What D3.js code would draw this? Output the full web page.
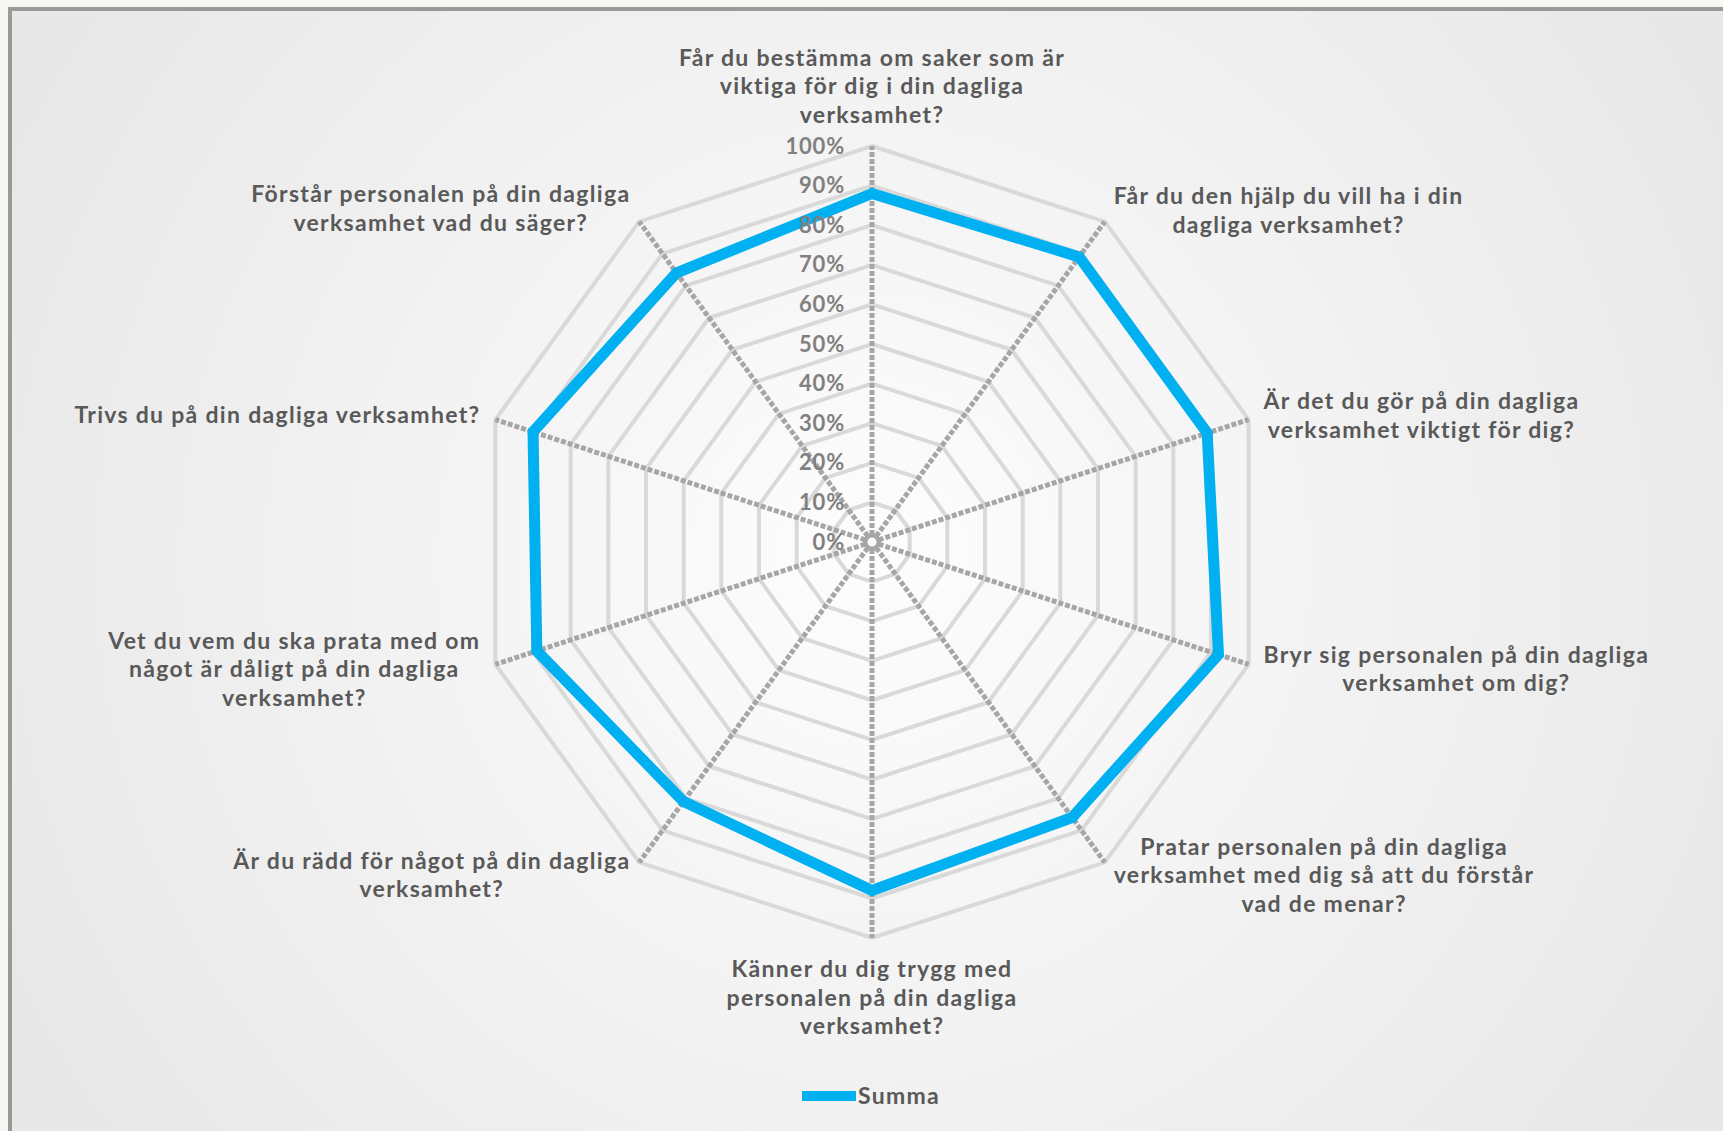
<!DOCTYPE html>
<html>
<head>
<meta charset="utf-8">
<script src="https://cdn.jsdelivr.net/npm/d3@7"></script>
<style>
  html, body { margin: 0; padding: 0; background: #f6f6f2; overflow: hidden; }
  svg { display: block; }
</style>
</head>
<body>
<div id="chart"></div>
<script>
// categories, clockwise from the top
var categories = [
  ["Får du bestämma om saker som är", "viktiga för dig i din dagliga", "verksamhet?"],
  ["Får du den hjälp du vill ha i din", "dagliga verksamhet?"],
  ["Är det du gör på din dagliga", "verksamhet viktigt för dig?"],
  ["Bryr sig personalen på din dagliga", "verksamhet om dig?"],
  ["Pratar personalen på din dagliga", "verksamhet med dig så att du förstår", "vad de menar?"],
  ["Känner du dig trygg med", "personalen på din dagliga", "verksamhet?"],
  ["Är du rädd för något på din dagliga", "verksamhet?"],
  ["Vet du vem du ska prata med om", "något är dåligt på din dagliga", "verksamhet?"],
  ["Trivs du på din dagliga verksamhet?"],
  ["Förstår personalen på din dagliga", "verksamhet vad du säger?"]
];
var summa = [0.88, 0.89, 0.89, 0.92, 0.86, 0.88, 0.81, 0.89, 0.90, 0.84];
var ticks = [0, 0.1, 0.2, 0.3, 0.4, 0.5, 0.6, 0.7, 0.8, 0.9, 1.0];
var seriesName = "Summa";

var width = 1723,
  height = 1131,
  cx = 872,
  cy = 542,
  R = 396;

var font = "'Century Gothic', Lato, sans-serif";

var svg = d3
  .select("#chart")
  .append("svg")
  .attr("width", width)
  .attr("height", height);

// background panel
var grad = svg.append("defs").append("radialGradient")
  .attr("id", "bg")
  .attr("gradientUnits", "userSpaceOnUse")
  .attr("cx", cx).attr("cy", cy + 20).attr("r", 950);
grad.append("stop").attr("offset", "0%").attr("stop-color", "#fdfdfd");
grad.append("stop").attr("offset", "100%").attr("stop-color", "#e8e8e8");

svg.append("rect")
  .attr("x", 10).attr("y", 9)
  .attr("width", width + 20).attr("height", height + 20)
  .attr("fill", "url(#bg)")
  .attr("stroke", "#999999")
  .attr("stroke-width", 4);

var g = svg.append("g").attr("transform", "translate(" + cx + "," + cy + ")");

var r = d3.scaleLinear().domain([0, 1]).range([0, R]);
var angle = d3.scaleLinear().domain([0, categories.length]).range([0, 2 * Math.PI]);

// rings
var ring = function (t) {
  return d3.lineRadial()
    .angle(function (d, i) { return angle(i); })
    .radius(r(t))
    .curve(d3.curveLinearClosed)(categories);
};
g.selectAll(".ring")
  .data(ticks.slice(1))
  .enter()
  .append("path")
  .attr("class", "ring")
  .attr("d", ring)
  .attr("fill", "none")
  .attr("stroke", "#d9d9d9")
  .attr("stroke-width", 4);

// spokes
g.selectAll(".spoke")
  .data(categories)
  .enter()
  .append("line")
  .attr("class", "spoke")
  .attr("x1", 0).attr("y1", 0)
  .attr("x2", function (d, i) { return r(1) * Math.sin(angle(i)); })
  .attr("y2", function (d, i) { return -r(1) * Math.cos(angle(i)); })
  .attr("stroke", "#a6a6a6")
  .attr("stroke-width", 5)
  .attr("stroke-dasharray", "5,2");

g.append("circle")
  .attr("r", 6.5)
  .attr("fill", "#fbfbfb")
  .attr("stroke", "#a6a6a6")
  .attr("stroke-width", 4);

// data line
g.append("path")
  .datum(summa)
  .attr("d", d3.lineRadial()
    .angle(function (d, i) { return angle(i); })
    .radius(function (d) { return r(d); })
    .curve(d3.curveLinearClosed))
  .attr("fill", "none")
  .attr("stroke", "#00b0f0")
  .attr("stroke-width", 11)
  .attr("stroke-linejoin", "miter");

// value axis along the top spoke
var yAxisScale = d3.scaleLinear().domain([0, 1]).range([cy, cy - R]);
var yAxis = svg.append("g")
  .attr("transform", "translate(" + (cx - 27) + ",0)")
  .call(d3.axisLeft(yAxisScale).tickValues(ticks).tickFormat(d3.format(".0%")).tickSize(0).tickPadding(0));
yAxis.select(".domain").remove();
yAxis.selectAll("text")
  .attr("font-family", font)
  .attr("font-size", 22)
  .attr("font-weight", "bold")
  .attr("letter-spacing", 0.8)
  .attr("fill", "#808080");

// category labels
var lineH = 28.5;
var labels = svg.append("g");
categories.forEach(function (lines, i) {
  var a = angle(i);
  var tx = cx + r(1) * Math.sin(a),
    ty = cy - r(1) * Math.cos(a);
  var lab = labels.append("text")
    .attr("font-family", font)
    .attr("font-size", 23)
    .attr("font-weight", "bold")
    .attr("letter-spacing", 1.3)
    .attr("fill", "#595959")
    .attr("text-anchor", "middle");
  var spans = lab.selectAll("tspan")
    .data(lines)
    .enter()
    .append("tspan")
    .text(function (d) { return d; });
  var maxW = d3.max(spans.nodes(), function (n) { return n.getComputedTextLength(); });
  var n = lines.length;
  var blockH = n * lineH;
  var x, top;
  var s = Math.sin(a), c = Math.cos(a);
  if (Math.abs(s) < 0.01) {
    x = tx;
    top = c > 0 ? ty - 16 - blockH : ty + 18;
  } else {
    var gap = Math.abs(c) > 0.5 ? 9 : 15;
    var shift;
    if (Math.abs(c) > 0.5) shift = c > 0 ? (s > 0 ? -10 : -12) : 14;
    else shift = c > 0 ? -3 : 6;
    x = s > 0 ? tx + gap + maxW / 2 : tx - gap - maxW / 2;
    top = ty - blockH / 2 + shift;
  }
  spans
    .attr("x", x)
    .attr("y", function (d, j) { return top + j * lineH + 21; });
});

// legend
var legend = svg.append("g").attr("transform", "translate(802,1096)");
legend.append("line")
  .attr("x1", 0).attr("x2", 54)
  .attr("stroke", "#00b0f0")
  .attr("stroke-width", 10);
legend.append("text")
  .attr("x", 56)
  .attr("dy", "0.35em")
  .attr("font-family", font)
  .attr("font-size", 23)
  .attr("font-weight", "bold")
  .attr("letter-spacing", 1.3)
  .attr("fill", "#595959")
  .text(seriesName);
</script>
</body>
</html>
